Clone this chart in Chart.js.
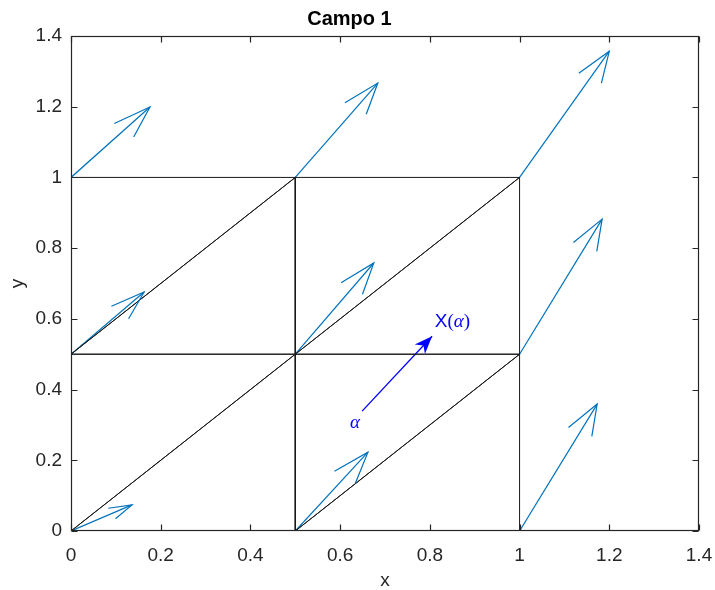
<!DOCTYPE html>
<html>
<head>
<meta charset="utf-8">
<title>Campo 1</title>
<script src="https://cdn.jsdelivr.net/npm/chart.js@4/dist/chart.umd.min.js"></script>
<style>
  html, body { margin: 0; padding: 0; background: #fff; }
  #wrap { width: 715px; height: 590px; }
</style>
</head>
<body>
<div id="wrap"><canvas id="campo"></canvas></div>
<script>
// mesh nodes and the field vector (u, v) sitting on each node
const nodeX = [0, 0.5, 1, 0, 0.5, 1, 0, 0.5, 1];
const nodeY = [0, 0, 0, 0.5, 0.5, 0.5, 1, 1, 1];
const fieldU = [0.136, 0.162, 0.173, 0.163, 0.175, 0.184, 0.176, 0.184, 0.200];
const fieldV = [0.074, 0.223, 0.359, 0.176, 0.258, 0.382, 0.199, 0.267, 0.357];

// triangles of the mesh, as node indices
const triangles = [[0, 1, 4], [0, 4, 3], [1, 2, 5], [1, 5, 4], [3, 4, 7], [3, 7, 6], [4, 5, 8], [4, 8, 7]];

// the alpha -> X(alpha) arrow
const mapFrom = [0.649, 0.339];
const mapTo = [0.805, 0.551];
const mapFromText = [0.633, 0.305];
const mapToText = [0.811, 0.591];

const axisTicks = [0, 0.2, 0.4, 0.6, 0.8, 1, 1.2, 1.4];
const tickLabels = ['0', '0.2', '0.4', '0.6', '0.8', '1', '1.2', '1.4'];

const FONT = "'Liberation Sans', Arial, Helvetica, sans-serif";
const AXIS_COLOR = '#262626';
const QUIVER_COLOR = '#0072BD';

const datasets = [];

triangles.forEach((t) => {
  const pts = t.concat(t[0]).map((k) => ({ x: nodeX[k], y: nodeY[k] }));
  datasets.push({
    data: pts,
    showLine: true,
    borderColor: '#1a1a1a',
    borderWidth: 1,
    pointRadius: 0,
  });
});

nodeX.forEach((x0, i) => {
  datasets.push({
    data: [{ x: x0, y: nodeY[i] }, { x: x0 + fieldU[i], y: nodeY[i] + fieldV[i] }],
    showLine: true,
    borderColor: QUIVER_COLOR,
    borderWidth: 1.2,
    pointRadius: 0,
  });
});

datasets.push({
  data: [{ x: mapFrom[0], y: mapFrom[1] }, { x: mapTo[0], y: mapTo[1] }],
  showLine: true,
  borderColor: '#0000ff',
  borderWidth: 1.3,
  pointRadius: 0,
});

const pickTicks = (scale) => {
  scale.ticks = axisTicks.map((v) => ({ value: v }));
};
const tickText = (v) => {
  const k = axisTicks.findIndex((t) => Math.abs(t - v) < 1e-9);
  return k < 0 ? '' : tickLabels[k];
};

// full box and inward tick marks on all four sides
const frameAndTicks = {
  id: 'frameAndTicks',
  afterDatasetsDraw(chart) {
    const { ctx, chartArea: a, scales } = chart;
    const len = 6;
    const l = Math.round(a.left) + 0.5, r = Math.round(a.right) - 0.5;
    const t = Math.round(a.top) + 0.5, b = Math.round(a.bottom) - 0.5;
    ctx.save();
    ctx.strokeStyle = AXIS_COLOR;
    ctx.lineWidth = 1.2;
    ctx.strokeRect(l, t, r - l, b - t);
    ctx.beginPath();
    axisTicks.forEach((v) => {
      const px = Math.round(scales.x.getPixelForValue(v)) + 0.5;
      ctx.moveTo(px, b);
      ctx.lineTo(px, b - len);
      ctx.moveTo(px, t);
      ctx.lineTo(px, t + len);
      const py = Math.round(scales.y.getPixelForValue(v)) + 0.5;
      ctx.moveTo(l, py);
      ctx.lineTo(l + len, py);
      ctx.moveTo(r, py);
      ctx.lineTo(r - len, py);
    });
    ctx.stroke();
    ctx.restore();
  },
};

// quiver heads (open barbs, capped for long arrows) and the filled annotation head
const arrowHeads = {
  id: 'arrowHeads',
  afterDatasetsDraw(chart) {
    const { ctx, scales } = chart;
    const X = (v) => scales.x.getPixelForValue(v);
    const Y = (v) => scales.y.getPixelForValue(v);
    ctx.save();
    ctx.strokeStyle = QUIVER_COLOR;
    ctx.lineWidth = 1.2;
    ctx.lineJoin = 'miter';
    nodeX.forEach((x0, i) => {
      const u = fieldU[i], v = fieldV[i];
      const tx = x0 + u, ty = nodeY[i] + v;
      const s = Math.min(1, 0.265 / Math.hypot(u, v));
      const a = 0.33 * s, b = 0.33;
      ctx.beginPath();
      ctx.moveTo(X(tx - a * (u + b * v)), Y(ty - a * (v - b * u)));
      ctx.lineTo(X(tx), Y(ty));
      ctx.lineTo(X(tx - a * (u - b * v)), Y(ty - a * (v + b * u)));
      ctx.stroke();
    });

    // filled head on the alpha arrow
    const x1 = X(mapTo[0]), y1 = Y(mapTo[1]);
    const x0 = X(mapFrom[0]), y0 = Y(mapFrom[1]);
    const L = Math.hypot(x1 - x0, y1 - y0);
    const dx = (x1 - x0) / L, dy = (y1 - y0) / L;
    const nx = -dy, ny = dx;
    const hl = 18, hw = 7;
    ctx.fillStyle = '#0000ff';
    ctx.beginPath();
    ctx.moveTo(x1, y1);
    ctx.lineTo(x1 - hl * dx + hw * nx, y1 - hl * dy + hw * ny);
    ctx.lineTo(x1 - 0.7 * hl * dx, y1 - 0.7 * hl * dy);
    ctx.lineTo(x1 - hl * dx - hw * nx, y1 - hl * dy - hw * ny);
    ctx.closePath();
    ctx.fill();

    // labels
    ctx.fillStyle = '#0000ff';
    ctx.textBaseline = 'middle';
    ctx.textAlign = 'center';
    ctx.font = "italic 19px 'Liberation Serif', 'DejaVu Serif', serif";
    ctx.fillText('α', X(mapFromText[0]), Y(mapFromText[1]));

    ctx.textAlign = 'left';
    let px = X(mapToText[0]);
    const py = Y(mapToText[1]);
    const parts = [
      ['X', "19px " + FONT],
      ['(', "19px 'Liberation Serif', serif"],
      ['α', "italic 19px 'Liberation Serif', 'DejaVu Serif', serif"],
      [')', "19px 'Liberation Serif', serif"],
    ];
    parts.forEach(([txt, f]) => {
      ctx.font = f;
      ctx.fillText(txt, px, py);
      px += ctx.measureText(txt).width;
    });
    ctx.restore();
  },
};

new Chart(document.getElementById('campo'), {
  type: 'scatter',
  data: { datasets },
  options: {
    responsive: true,
    maintainAspectRatio: false,
    animation: false,
    events: [],
    layout: { padding: { top: 0, left: 0, right: 16, bottom: 0 } },
    plugins: {
      legend: { display: false },
      tooltip: { enabled: false },
      title: {
        display: true,
        text: 'Campo 1',
        color: '#000',
        font: { family: FONT, size: 20, weight: 'bold', lineHeight: 1.2 },
        padding: { top: 7, bottom: 5 },
      },
    },
    scales: {
      x: {
        type: 'linear',
        min: 0,
        max: 1.4,
        afterBuildTicks: pickTicks,
        afterFit: (scale) => {
          scale.height = 59;
          scale.paddingLeft = 0;
          scale.paddingRight = 0;
        },
        grid: { display: true, drawOnChartArea: false, drawTicks: false },
        border: { display: false },
        ticks: {
          color: AXIS_COLOR,
          font: { family: FONT, size: 19 },
          padding: 13,
          maxRotation: 0,
          callback: tickText,
        },
        title: {
          display: true,
          text: 'x',
          color: AXIS_COLOR,
          font: { family: FONT, size: 19, lineHeight: 1 },
          padding: { top: 0, bottom: 0 },
        },
      },
      y: {
        type: 'linear',
        min: 0,
        max: 1.4,
        afterBuildTicks: pickTicks,
        afterFit: (scale) => {
          scale.width = 71;
          scale.paddingTop = 0;
          scale.paddingBottom = 0;
        },
        grid: { display: true, drawOnChartArea: false, drawTicks: false },
        border: { display: false },
        ticks: {
          color: AXIS_COLOR,
          font: { family: FONT, size: 19 },
          padding: 9,
          callback: tickText,
        },
        title: {
          display: true,
          text: 'y',
          color: AXIS_COLOR,
          font: { family: FONT, size: 19, lineHeight: 1 },
          padding: { top: 8, bottom: 0 },
        },
      },
    },
  },
  plugins: [frameAndTicks, arrowHeads],
});
</script>
</body>
</html>
